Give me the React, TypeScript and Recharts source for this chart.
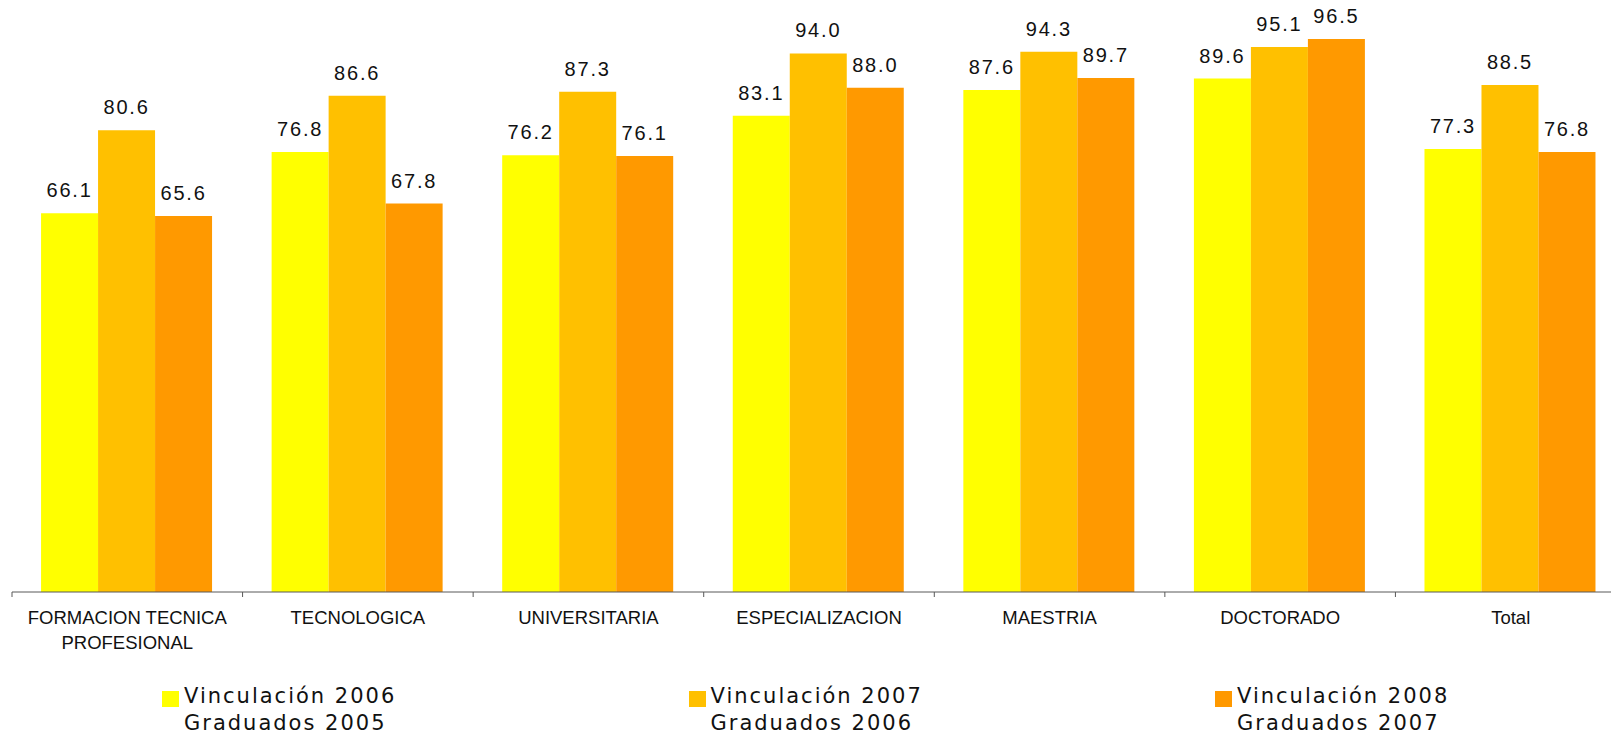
import { BarChart, Bar, XAxis, YAxis, Legend, LabelList } from 'recharts'

const categories = [
  'FORMACION TECNICA\nPROFESIONAL',
  'TECNOLOGICA',
  'UNIVERSITARIA',
  'ESPECIALIZACION',
  'MAESTRIA',
  'DOCTORADO',
  'Total',
]

const vinc2006 = [66.1, 76.8, 76.2, 83.1, 87.6, 89.6, 77.3]
const vinc2007 = [80.6, 86.6, 87.3, 94.0, 94.3, 95.1, 88.5]
const vinc2008 = [65.6, 67.8, 76.1, 88.0, 89.7, 96.5, 76.8]

const seriesKeys = ['v2006', 'v2007', 'v2008']
const seriesNames = [
  'Vinculación 2006\nGraduados 2005',
  'Vinculación 2007\nGraduados 2006',
  'Vinculación 2008\nGraduados 2007',
]
const seriesColors = ['#FFFF00', '#FFC000', '#FF9900']

const chartData = categories.map((name, i) => ({
  name,
  v2006: vinc2006[i],
  v2007: vinc2007[i],
  v2008: vinc2008[i],
}))

const LABEL_FONT = '"Liberation Sans", Arial, sans-serif'

function CategoryTick(props: any) {
  const { x, y, payload } = props
  const half = payload?.offset ?? 0
  const lines = String(payload.value).split('\n')
  return (
    <g>
      <line x1={x - half} x2={x - half} y1={y - 5} y2={y} stroke="#595959" strokeWidth={1} />
      <text
        x={x}
        y={y + 27}
        textAnchor="middle"
        fill="#111"
        fontSize={18.5}
        fontFamily={LABEL_FONT}
      >
        {lines.map((l, i) => (
          <tspan key={i} x={x} dy={i === 0 ? 0 : 25}>
            {l}
          </tspan>
        ))}
      </text>
    </g>
  )
}

function ValueLabel(props: any) {
  const { x, y, width, value } = props
  return (
    <text
      x={x + width / 2}
      y={y - 16}
      textAnchor="middle"
      fill="#111"
      fontSize={20}
      letterSpacing={1.8}
      fontFamily={LABEL_FONT}
    >
      {Number(value).toFixed(1)}
    </text>
  )
}

function LegendContent(props: any) {
  const { payload } = props
  return (
    <div style={{ display: 'flex', paddingLeft: 162, width: 1800 }}>
      {(payload || []).map((entry: any) => (
        <div
          key={entry.value}
          style={{ display: 'flex', alignItems: 'flex-start', width: 526.5, flexShrink: 0 }}
        >
          <div style={{ width: 17, height: 16, marginTop: 8, background: entry.color, flexShrink: 0 }} />
          <div
            style={{
              marginLeft: 5,
              fontFamily: '"DejaVu Sans", Verdana, sans-serif',
              fontSize: 21,
              letterSpacing: 2,
              lineHeight: '27px',
              color: '#111',
              whiteSpace: 'pre',
            }}
          >
            {entry.value}
          </div>
        </div>
      ))}
    </div>
  )
}

export default function App() {
  return (
    <div
      style={{
        position: 'absolute',
        left: 0,
        top: 0,
        width: 1611,
        height: 734,
        overflow: 'hidden',
        background: '#fff',
      }}
    >
      <BarChart
        width={1630}
        height={734}
        data={chartData}
        margin={{ top: 19, right: 4, bottom: 62, left: 12 }}
        barCategoryGap="12.6%"
        barGap={0}
      >
        <XAxis
          dataKey="name"
          interval={0}
          height={80}
          tickSize={5}
          tickMargin={0}
          tickLine={false}
          axisLine={{ stroke: '#595959' }}
          tick={<CategoryTick />}
        />
        <YAxis hide domain={[0, 100]} />
        <Legend
          layout="horizontal"
          verticalAlign="middle"
          align="center"
          wrapperStyle={{ top: 683, left: 0, width: 1611, overflow: 'hidden' }}
          content={<LegendContent />}
        />
        {seriesKeys.map((key, i) => (
          <Bar
            key={key}
            dataKey={key}
            name={seriesNames[i]}
            fill={seriesColors[i]}
            isAnimationActive={false}
          >
            <LabelList dataKey={key} content={<ValueLabel />} />
          </Bar>
        ))}
      </BarChart>
    </div>
  )
}
